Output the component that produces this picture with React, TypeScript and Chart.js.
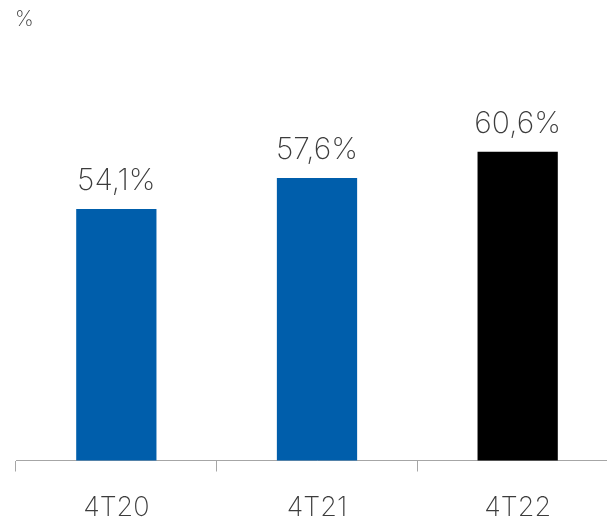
import React, { useEffect, useRef } from "react";
import { Chart, registerables } from "chart.js";

Chart.register(...registerables);

const categories = ["4T20", "4T21", "4T22"];
const values = [54.1, 57.6, 60.6];
const valueLabels = ["54,1%", "57,6%", "60,6%"];
const barColors = ["#005EAB", "#005EAB", "#000000"];
const unitLabel = "%";

const FONT = "Inter, sans-serif";
const TEXT = "#3c3c3c";

export default function App() {
  const ref = useRef<HTMLCanvasElement | null>(null);
  useEffect(() => {
    document.body.style.overflow = "hidden";
    const labelPlugin = {
      id: "labels",
      afterDatasetsDraw(chart: any) {
        const ctx = chart.ctx;
        const meta = chart.getDatasetMeta(0);
        ctx.save();
        ctx.fillStyle = TEXT;
        ctx.font = `200 30px ${FONT}`;
        ctx.textAlign = "center";
        ctx.textBaseline = "alphabetic";
        meta.data.forEach((bar: any, i: number) => {
          ctx.fillText(valueLabels[i], bar.x, bar.y - 19);
        });
        ctx.font = `200 21px ${FONT}`;
        ctx.textAlign = "left";
        ctx.fillText(unitLabel, 15, 26);
        ctx.restore();
      },
    };
    const chart = new Chart(ref.current!, {
      type: "bar",
      data: {
        labels: categories,
        datasets: [
          {
            data: values,
            backgroundColor: barColors,
            barPercentage: 0.4,
            categoryPercentage: 1,
          },
        ],
      },
      options: {
        animation: false,
        responsive: false,
        layout: { padding: { left: 16, right: 4, top: 69, bottom: 0 } },
        plugins: { legend: { display: false }, tooltip: { enabled: false } },
        scales: {
          x: {
            grid: {
              display: true,
              offset: true,
              drawOnChartArea: false,
              drawTicks: true,
              tickLength: 11,
              color: "#a6a6a6",
              lineWidth: 1,
            },
            border: { display: true, color: "#a6a6a6", width: 1 },
            ticks: {
              color: TEXT,
              font: { family: FONT, size: 27, weight: "200" as any },
              padding: 20,
            },
            afterFit: (scale: any) => {
              scale.height = 61.5;
            },
          },
          y: {
            display: false,
            min: 25.5,
            max: 70,
          },
        },
      },
      plugins: [labelPlugin],
    });
    return () => chart.destroy();
  }, []);
  return (
    <div style={{ position: "fixed", left: 0, top: 0, width: 622, height: 522 }}>
      <canvas ref={ref} width={622} height={522} />
    </div>
  );
}
